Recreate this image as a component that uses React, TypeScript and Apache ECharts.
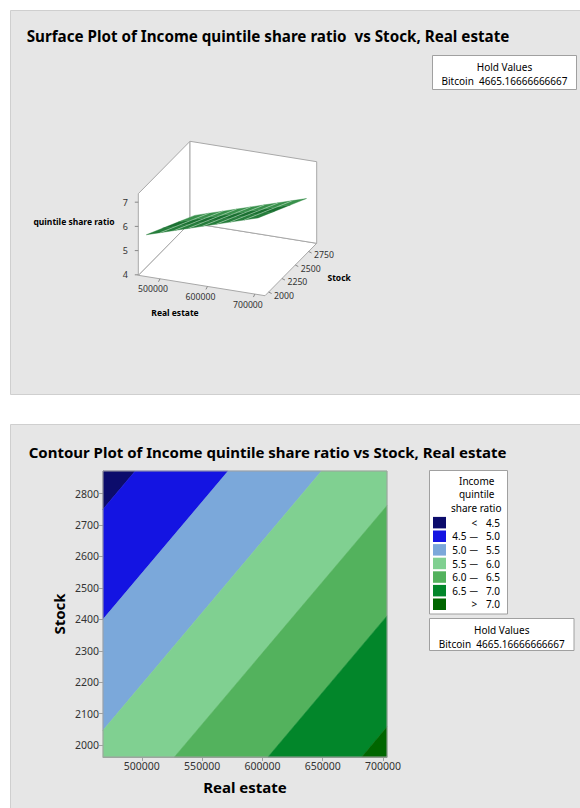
import React, { useEffect, useRef } from 'react';
import * as echarts from 'echarts';

const FONT = '"Noto Sans", "Open Sans", sans-serif';

// ---------- data ----------
const surfaceTitle = 'Surface Plot of Income quintile share ratio  vs Stock, Real estate';
const contourTitle = 'Contour Plot of Income quintile share ratio vs Stock, Real estate';
const holdName = 'Bitcoin';
const holdValue = '4665.16666666667';

// contour plot axes
const realEstateExtent = [467800, 703300];
const stockExtent = [1962, 2872];
const realEstateTicks = [500000, 550000, 600000, 650000, 700000];
const stockTicks = [2000, 2100, 2200, 2300, 2400, 2500, 2600, 2700, 2800];

// contour levels, colours, and the contour lines (start / end points)
const levelBreaks = [4.5, 5.0, 5.5, 6.0, 6.5, 7.0];
const levelColors = ['#0c0c6c', '#1414e2', '#7ba8da', '#80d091', '#53b25d', '#02862a', '#006600'];
const contourLineStart = [[467800, 2750], [467800, 2400], [467800, 2047], [527000, 1962], [604600, 1962], [682300, 1962]];
const contourLineEnd = [[494500, 2872], [571600, 2872], [649000, 2872], [703300, 2762], [703300, 2411], [703300, 2058]];

// surface plot: corner values of the fitted surface (z at [realEstate][stock])
const surfaceRealEstate = [467800, 703300];
const surfaceStock = [1962, 2872];
const surfaceZ = [[5.63, 4.4], [7.07, 5.84]];
const surfaceRealEstateTicks = [500000, 600000, 700000];
const surfaceStockTicks = [2000, 2250, 2500, 2750];
const surfaceZTicks = [4, 5, 6, 7];

// ---------- 3D projection (layout) ----------
const AX = [454300, 721300];
const AY = [1932, 2902];
const AZ = [3.98, 7.35];
const O = [138.3, 275.3];
const EX = [126.7, 20.4];
const EY = [51.7, -52.4];
const EZ = [0, -81.6];

function proj(x: number, y: number, z: number): number[] {
  const fx = (x - AX[0]) / (AX[1] - AX[0]);
  const fy = (y - AY[0]) / (AY[1] - AY[0]);
  const fz = (z - AZ[0]) / (AZ[1] - AZ[0]);
  return [O[0] + fx * EX[0] + fy * EY[0] + fz * EZ[0], O[1] + fx * EX[1] + fy * EY[1] + fz * EZ[1]];
}

function txt(text: string, x: number, y: number, size: number, opts: any = {}) {
  const align = opts.align || 'center';
  const valign = opts.valign || 'middle';
  return {
    type: 'text',
    x,
    y,
    rotation: opts.rotation || 0,
    silent: true,
    z: 50,
    style: {
      text,
      font: `${opts.bold ? 'bold ' : ''}${size}px ${FONT}`,
      fill: opts.color || '#000',
      align,
      verticalAlign: valign,
      textAlign: align,
      textVerticalAlign: valign,
    },
  };
}

function line(p1: number[], p2: number[], color = '#a6a6a6', width = 1, z = 10) {
  return {
    type: 'line',
    silent: true,
    z,
    shape: { x1: p1[0], y1: p1[1], x2: p2[0], y2: p2[1] },
    style: { stroke: color, lineWidth: width },
  };
}

function poly(points: number[][], fill: string, stroke?: string, lw = 1, z = 5) {
  return {
    type: 'polygon',
    silent: true,
    z,
    shape: { points },
    style: { fill, stroke: stroke || 'none', lineWidth: lw },
  };
}

function surfaceValue(x: number, y: number) {
  const u = (x - surfaceRealEstate[0]) / (surfaceRealEstate[1] - surfaceRealEstate[0]);
  const v = (y - surfaceStock[0]) / (surfaceStock[1] - surfaceStock[0]);
  return (
    surfaceZ[0][0] * (1 - u) * (1 - v) +
    surfaceZ[1][0] * u * (1 - v) +
    surfaceZ[0][1] * (1 - u) * v +
    surfaceZ[1][1] * u * v
  );
}

function build3D(): any[] {
  const g: any[] = [];
  const [xa, xb] = AX;
  const [ya, yb] = AY;
  const [za, zb] = AZ;
  const wallStroke = '#a8a8a8';
  // walls
  g.push(poly([proj(xa, ya, za), proj(xb, ya, za), proj(xb, yb, za), proj(xa, yb, za)], '#ffffff', wallStroke, 1, 2));
  g.push(poly([proj(xa, ya, za), proj(xa, yb, za), proj(xa, yb, zb), proj(xa, ya, zb)], '#ffffff', wallStroke, 1, 2));
  g.push(poly([proj(xa, yb, za), proj(xb, yb, za), proj(xb, yb, zb), proj(xa, yb, zb)], '#ffffff', wallStroke, 1, 2));

  // surface
  const nx = 8;
  const ny = 3;
  const sx = surfaceRealEstate;
  const sy = surfaceStock;
  const shades = ['#257d3b', '#1a7031', '#38904b'];
  for (let i = 0; i < nx; i++) {
    for (let j = 0; j < ny; j++) {
      const x0 = sx[0] + ((sx[1] - sx[0]) * i) / nx;
      const x1 = sx[0] + ((sx[1] - sx[0]) * (i + 1)) / nx;
      const y0 = sy[0] + ((sy[1] - sy[0]) * j) / ny;
      const y1 = sy[0] + ((sy[1] - sy[0]) * (j + 1)) / ny;
      const pts = [
        proj(x0, y0, surfaceValue(x0, y0)),
        proj(x1, y0, surfaceValue(x1, y0)),
        proj(x1, y1, surfaceValue(x1, y1)),
        proj(x0, y1, surfaceValue(x0, y1)),
      ];
      g.push(poly(pts, shades[j], shades[j], 0.4, 20));
    }
  }
  for (let i = 1; i < nx; i++) {
    const x = sx[0] + ((sx[1] - sx[0]) * i) / nx;
    g.push(line(proj(x, sy[0], surfaceValue(x, sy[0])), proj(x, sy[1], surfaceValue(x, sy[1])), 'rgba(215,238,218,0.7)', 0.7, 21));
  }

  // z axis ticks + labels
  surfaceZTicks.forEach((t) => {
    const p = proj(xa, ya, t);
    g.push(line([p[0] - 3.5, p[1]], p, '#888'));
    g.push(txt(String(t), p[0] - 13, p[1], 9, { align: 'center', color: '#333' }));
  });
  // real estate ticks + labels
  surfaceRealEstateTicks.forEach((t) => {
    const p = proj(t, ya, za);
    g.push(line(p, [p[0] - 1.5, p[1] + 3], '#888'));
    g.push(txt(String(t), p[0] - 7, p[1] + 10.5, 8.7, { color: '#333' }));
  });
  // stock ticks + labels
  surfaceStockTicks.forEach((t) => {
    const p = proj(xb, t, za);
    g.push(line(p, [p[0] + 3, p[1] + 1.5], '#888'));
    g.push(txt(String(t), p[0] + 5.5, p[1] + 3.5, 8.7, { align: 'left', color: '#333' }));
  });
  g.push(txt('Real estate', 175, 312.7, 8.5, { bold: true }));
  g.push(txt('Stock', 327.5, 277.3, 8.5, { bold: true, align: 'left' }));
  g.push(txt('quintile share ratio', 114.5, 221.7, 8.5, { bold: true, align: 'right' }));
  return g;
}

function holdBox(x: number, y: number, w: number, h: number): any[] {
  return [
    { type: 'rect', silent: true, z: 40, shape: { x, y, width: w, height: h }, style: { fill: '#fff', stroke: '#a0a0a0', lineWidth: 1 } },
    txt('Hold Values', x + w / 2, y + 11, 10),
    txt(`${holdName}  ${holdValue}`, x + w / 2, y + 25, 10),
  ];
}

function buildLegend(): any[] {
  const g: any[] = [];
  const bx = 429.5;
  const by = 470.5;
  g.push({ type: 'rect', silent: true, z: 40, shape: { x: bx, y: by, width: 78, height: 143.5 }, style: { fill: '#fff', stroke: '#a0a0a0', lineWidth: 1 } });
  g.push(txt('Income', 476.7, 480.7, 10));
  g.push(txt('quintile', 476.7, 494.3, 10));
  g.push(txt('share ratio', 476.2, 508.3, 10));
  levelColors.forEach((c, i) => {
    const cy = 522.7 + i * 13.6;
    g.push({ type: 'rect', silent: true, z: 45, shape: { x: 433, y: cy - 5.8, width: 13, height: 11.5 }, style: { fill: c } });
    if (i === 0) {
      g.push(txt('<', 474.3, cy, 10));
      g.push(txt(levelBreaks[0].toFixed(1), 500, cy, 10, { align: 'right' }));
    } else if (i === levelColors.length - 1) {
      g.push(txt('>', 474.3, cy, 10));
      g.push(txt(levelBreaks[levelBreaks.length - 1].toFixed(1), 500, cy, 10, { align: 'right' }));
    } else {
      g.push(txt(levelBreaks[i - 1].toFixed(1), 452.3, cy, 10, { align: 'left' }));
      g.push(txt('\u2014', 473.8, cy, 8.5));
      g.push(txt(levelBreaks[i].toFixed(1), 500, cy, 10, { align: 'right' }));
    }
  });
  return g;
}

// ---------- contour region polygons ----------
function norm(p: number[]) {
  return [
    (p[0] - realEstateExtent[0]) / (realEstateExtent[1] - realEstateExtent[0]),
    (p[1] - stockExtent[0]) / (stockExtent[1] - stockExtent[0]),
  ];
}
function sideFn(k: number, keepHigh: boolean) {
  const a = norm(contourLineStart[k]);
  const b = norm(contourLineEnd[k]);
  const hi = norm([realEstateExtent[1], stockExtent[0]]);
  const cross = (q: number[]) => (b[0] - a[0]) * (q[1] - a[1]) - (b[1] - a[1]) * (q[0] - a[0]);
  const ref = Math.sign(cross(hi));
  return (p: number[]) => (keepHigh ? 1 : -1) * ref * cross(norm(p));
}
function clip(polyPts: number[][], side: (p: number[]) => number) {
  const out: number[][] = [];
  for (let i = 0; i < polyPts.length; i++) {
    const a = polyPts[i];
    const b = polyPts[(i + 1) % polyPts.length];
    const sa = side(a);
    const sb = side(b);
    if (sa >= 0) out.push(a);
    if (sa * sb < 0) {
      const t = sa / (sa - sb);
      out.push([a[0] + (b[0] - a[0]) * t, a[1] + (b[1] - a[1]) * t]);
    }
  }
  return out;
}
function regionPolygon(i: number) {
  let pts = [
    [realEstateExtent[0], stockExtent[0]],
    [realEstateExtent[1], stockExtent[0]],
    [realEstateExtent[1], stockExtent[1]],
    [realEstateExtent[0], stockExtent[1]],
  ];
  if (i > 0) pts = clip(pts, sideFn(i - 1, true));
  if (i < levelBreaks.length) pts = clip(pts, sideFn(i, false));
  return pts;
}

export default function App() {
  const ref = useRef<HTMLDivElement>(null);
  useEffect(() => {
    if (!ref.current) return;
    const chart = echarts.init(ref.current, undefined, { renderer: 'svg' });
    const graphics: any[] = [
      { type: 'rect', silent: true, z: 0, shape: { x: 10.5, y: 10.5, width: 600, height: 384 }, style: { fill: '#e6e6e6', stroke: '#cfcfcf', lineWidth: 1 } },
      { type: 'rect', silent: true, z: 0, shape: { x: 10.5, y: 424.5, width: 600, height: 400 }, style: { fill: '#e6e6e6', stroke: '#cfcfcf', lineWidth: 1 } },
      txt(surfaceTitle, 268, 36, 15.2, { bold: true }),
      txt(contourTitle, 267.5, 451.5, 15, { bold: true }),
      ...build3D(),
      ...holdBox(432.5, 55.5, 144, 34),
      ...buildLegend(),
      ...holdBox(429.5, 618.5, 144.5, 32),
    ];
    const fmt = (v: number) => String(Math.round(v));
    const option: any = {
      animation: false,
      graphic: { elements: graphics },
      grid: {
        left: 103,
        top: 471,
        width: 284,
        height: 286,
        show: true,
        borderColor: '#a0a0a0',
        borderWidth: 1,
        backgroundColor: 'transparent',
        z: 3,
      },
      xAxis: {
        type: 'value',
        min: realEstateExtent[0],
        max: realEstateExtent[1],
        name: 'Real estate',
        nameLocation: 'middle',
        nameGap: 22,
        nameTextStyle: { fontFamily: FONT, fontWeight: 'bold', fontSize: 15, color: '#000' },
        axisLine: { show: true, lineStyle: { color: '#a0a0a0' } },
        axisTick: { show: true, length: 4, lineStyle: { color: '#a0a0a0' }, customValues: realEstateTicks },
        axisLabel: { customValues: realEstateTicks, formatter: fmt, fontFamily: FONT, fontSize: 10.5, color: '#333', margin: 3 },
        splitLine: { show: false },
      },
      yAxis: {
        type: 'value',
        min: stockExtent[0],
        max: stockExtent[1],
        name: 'Stock',
        nameLocation: 'middle',
        nameGap: 37,
        nameTextStyle: { fontFamily: FONT, fontWeight: 'bold', fontSize: 15, color: '#000' },
        axisLine: { show: true, lineStyle: { color: '#a0a0a0' } },
        axisTick: { show: true, length: 4, lineStyle: { color: '#a0a0a0' }, customValues: stockTicks },
        axisLabel: { customValues: stockTicks, formatter: fmt, fontFamily: FONT, fontSize: 10.5, color: '#333', margin: 4 },
        splitLine: { show: false },
      },
      series: [
        {
          type: 'custom',
          coordinateSystem: 'cartesian2d',
          silent: true,
          z: 2,
          encode: { x: 0, y: 1 },
          data: levelColors.map((_, i) => [realEstateExtent[0], stockExtent[0], i]),
          renderItem: (_params: any, api: any) => {
            const i = api.value(2);
            const pts = regionPolygon(i).map((p) => api.coord(p));
            return {
              type: 'polygon',
              shape: { points: pts },
              style: { fill: levelColors[i], stroke: levelColors[i], lineWidth: 0.5 },
            };
          },
        },
      ],
    };
    chart.setOption(option);
    return () => chart.dispose();
  }, []);
  return (
    <div
      ref={ref}
      style={{ position: 'absolute', left: 0, top: 0, width: 580, height: 808, background: '#fff' }}
    />
  );
}
